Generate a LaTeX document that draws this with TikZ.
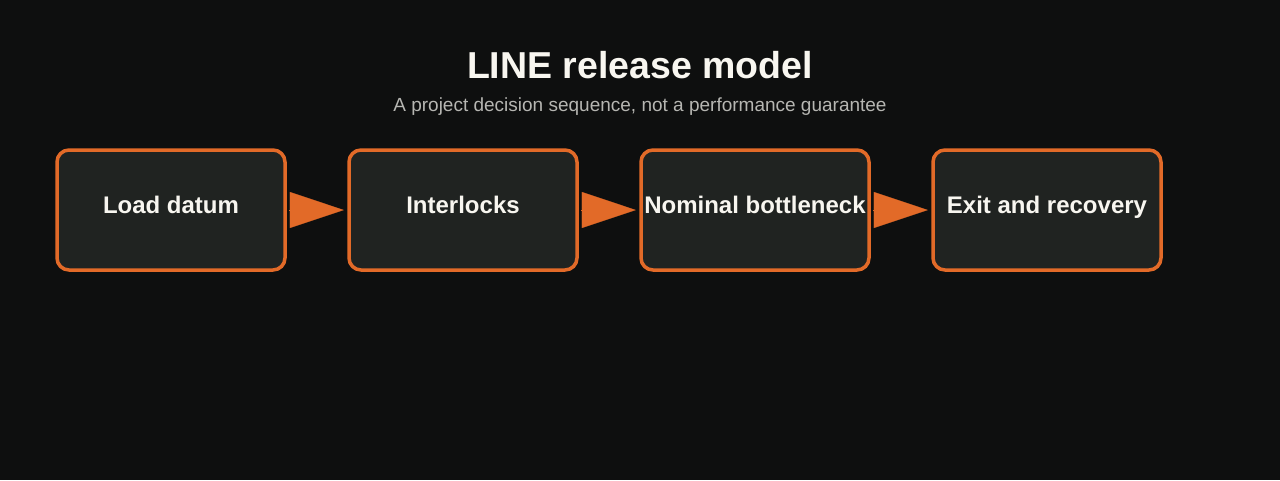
\documentclass[tikz,border=0pt]{standalone}
\usepackage{fontspec}
\setmainfont{Liberation Sans}
\usetikzlibrary{positioning,arrows.meta}
\definecolor{pagebg}{RGB}{14,15,15}
\definecolor{boxfill}{RGB}{32,35,33}
\definecolor{stageorange}{RGB}{226,106,40}
\definecolor{titlewhite}{RGB}{248,246,240}
\definecolor{subgray}{RGB}{182,182,178}

\begin{document}
\begin{tikzpicture}[x=1pt, y=-1pt,
    stagebox/.style={draw=stageorange, line width=3.5pt, fill=boxfill,
      rounded corners=12pt, minimum width=228pt, minimum height=120pt,
      text=titlewhite, font=\fontsize{24}{27}\selectfont\bfseries,
      text height=12.5pt, text depth=5pt, inner sep=0pt},
    flowarrow/.style={stageorange, line width=0.1pt,
      -{Triangle[length=54pt, width=36pt]}, shorten <=2.5pt, shorten >=3.5pt},
    node distance=60.5pt]
  % Page
  \fill[pagebg] (0,0) rectangle (1280,480);
  \useasboundingbox (0,0) rectangle (1280,480);

  % Heading
  \node[anchor=base, text=titlewhite, font=\fontsize{37.5}{42}\selectfont\bfseries]
    (title) at (640,78) {LINE release model};
  \node[anchor=base, text=subgray, font=\fontsize{19}{22}\selectfont]
    (subtitle) at (640,111) {A project decision sequence, not a performance guarantee};

  % Stages
  \node[stagebox] (load) at (171,210) {Load datum};
  \node[stagebox, right=of load] (interlock) {Interlocks};
  \node[stagebox, right=of interlock] (bottleneck) {Nominal bottleneck};
  \node[stagebox, right=of bottleneck] (exit) {Exit and recovery};

  % Flow
  \draw[flowarrow] (load) -- (interlock);
  \draw[flowarrow] (interlock) -- (bottleneck);
  \draw[flowarrow] (bottleneck) -- (exit);
\end{tikzpicture}
\end{document}
